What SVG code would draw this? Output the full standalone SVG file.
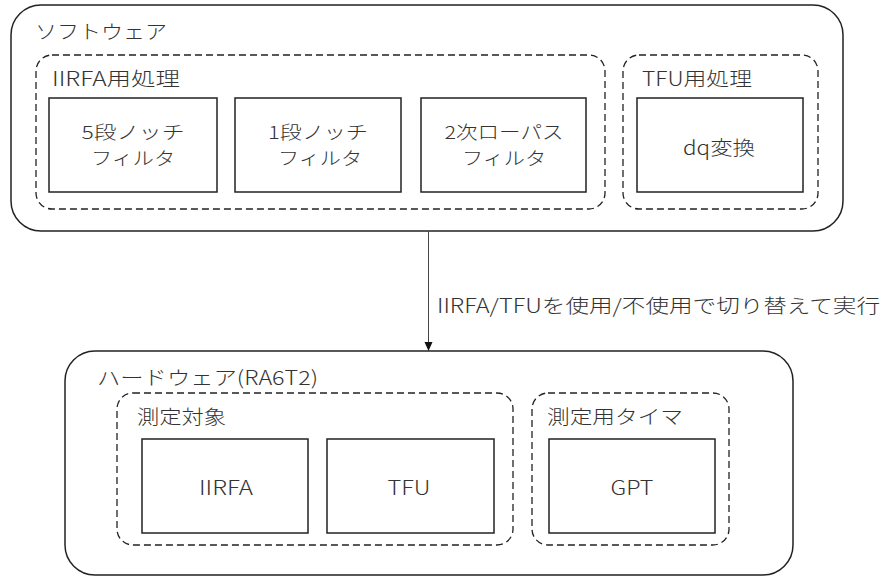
<svg xmlns="http://www.w3.org/2000/svg" width="885" height="576" viewBox="0 0 885 576">
<style>
.outer{fill:#fff;stroke:#222;stroke-width:1.5}
.dash{fill:none;stroke:#222;stroke-width:1.3;stroke-dasharray:7,4}
.box{fill:#fff;stroke:#222;stroke-width:1.5}
text{font-family:"Noto Sans CJK JP","Noto Sans",sans-serif;font-size:19.5px;font-weight:300;fill:#333;dominant-baseline:central}
.c{text-anchor:middle}
.two{font-size:18px}
.conn{stroke:#444;stroke-width:1;fill:none}
</style>
<defs>
<marker id="ah" markerWidth="10" markerHeight="10" refX="9" refY="5" orient="auto" markerUnits="userSpaceOnUse">
<path d="M0,1 L9,5 L0,9 Z" fill="#111"/>
</marker>
</defs>
<rect width="885" height="576" fill="#fff"/>
<g id="software">
<rect class="outer" x="11" y="5" width="832" height="226" rx="30"/>
<text x="35" y="30" textLength="132" lengthAdjust="spacingAndGlyphs">ソフトウェア</text>
</g>
<g id="iirfa-group">
<rect class="dash" x="36" y="55" width="569" height="154" rx="16"/>
<text x="52" y="77" textLength="128" lengthAdjust="spacingAndGlyphs">IIRFA用処理</text>
</g>
<g id="notch5">
<rect class="box" x="49" y="98" width="168" height="94"/>
<text class="c two" x="133" y="131" textLength="103" lengthAdjust="spacingAndGlyphs">5段ノッチ</text>
<text class="c two" x="133" y="157" textLength="84" lengthAdjust="spacingAndGlyphs">フィルタ</text>
</g>
<g id="notch1">
<rect class="box" x="235" y="98" width="166" height="94"/>
<text class="c two" x="318" y="131" textLength="100" lengthAdjust="spacingAndGlyphs">1段ノッチ</text>
<text class="c two" x="320" y="157" textLength="84" lengthAdjust="spacingAndGlyphs">フィルタ</text>
</g>
<g id="lowpass">
<rect class="box" x="421" y="98" width="165" height="94"/>
<text class="c two" x="504" y="131" textLength="119" lengthAdjust="spacingAndGlyphs">2次ローパス</text>
<text class="c two" x="504" y="157" textLength="84" lengthAdjust="spacingAndGlyphs">フィルタ</text>
</g>
<g id="tfu-group">
<rect class="dash" x="623" y="55" width="195" height="154" rx="16"/>
<text x="642" y="77" textLength="110" lengthAdjust="spacingAndGlyphs">TFU用処理</text>
</g>
<g id="dq">
<rect class="box" x="637" y="98" width="166" height="94"/>
<text class="c" x="719" y="146" textLength="72" lengthAdjust="spacingAndGlyphs">dq変換</text>
</g>
<g id="hardware">
<rect class="outer" x="65" y="351" width="728" height="224" rx="30"/>
<text x="97" y="376" textLength="221" lengthAdjust="spacingAndGlyphs">ハードウェア(RA6T2)</text>
</g>
<g id="target-group">
<rect class="dash" x="117" y="393" width="396" height="152" rx="16"/>
<text x="137" y="415" textLength="89" lengthAdjust="spacingAndGlyphs">測定対象</text>
</g>
<g id="iirfa">
<rect class="box" x="142" y="439" width="166" height="94"/>
<text class="c" x="226" y="486" textLength="54" lengthAdjust="spacingAndGlyphs">IIRFA</text>
</g>
<g id="tfu">
<rect class="box" x="327" y="439" width="167" height="94"/>
<text class="c" x="409" y="486" textLength="43" lengthAdjust="spacingAndGlyphs">TFU</text>
</g>
<g id="timer-group">
<rect class="dash" x="532" y="393" width="197" height="152" rx="16"/>
<text x="547" y="415" textLength="136" lengthAdjust="spacingAndGlyphs">測定用タイマ</text>
</g>
<g id="gpt">
<rect class="box" x="549" y="439" width="166" height="94"/>
<text class="c" x="632" y="486" textLength="43" lengthAdjust="spacingAndGlyphs">GPT</text>
</g>
<g id="connectors">
<line class="conn" x1="428.5" y1="231" x2="428.5" y2="351" marker-end="url(#ah)"/>
<text x="437" y="304" textLength="443" lengthAdjust="spacingAndGlyphs">IIRFA/TFUを使用/不使用で切り替えて実行</text>
</g>
</svg>
